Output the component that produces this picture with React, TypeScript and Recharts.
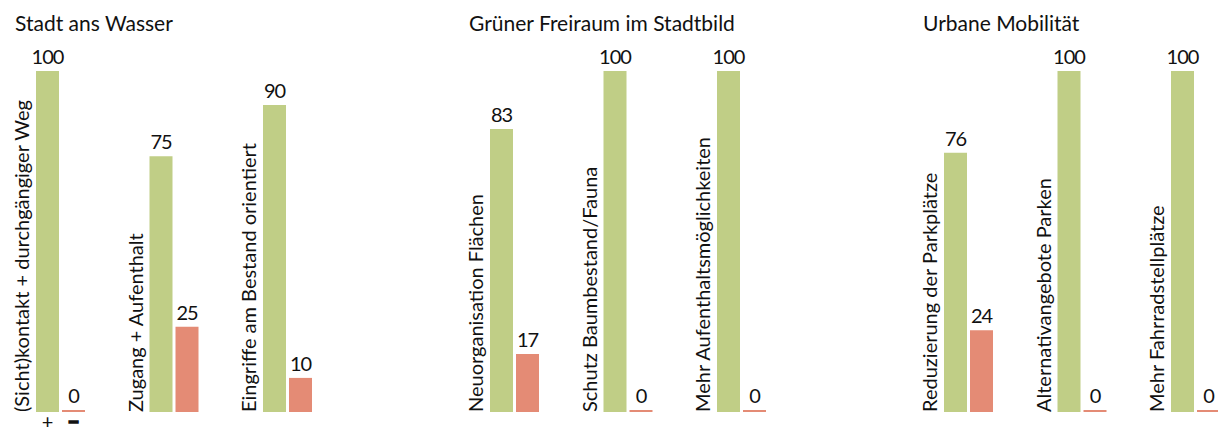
import { BarChart, Bar, XAxis, YAxis, LabelList } from "recharts";

// categories, blank entries separate the three topic groups
const categories = [
  "(Sicht)kontakt + durchgängiger Weg",
  "Zugang + Aufenthalt",
  "Eingriffe am Bestand orientiert",
  "",
  "Neuorganisation Flächen",
  "Schutz Baumbestand/Fauna",
  "Mehr Aufenthaltsmöglichkeiten",
  "",
  "Reduzierung der Parkplätze",
  "Alternativangebote Parken",
  "Mehr Fahrradstellplätze",
];
const positive = [100, 75, 90, null, 83, 100, 100, null, 76, 100, 100];
const negative = [0, 25, 10, null, 17, 0, 0, null, 24, 0, 0];
// group title, keyed by the first category of each group
const groupTitles: Record<string, string> = {
  "(Sicht)kontakt + durchgängiger Weg": "Stadt ans Wasser",
  "Neuorganisation Flächen": "Grüner Freiraum im Stadtbild",
  "Reduzierung der Parkplätze": "Urbane Mobilität",
};
const signs = ["+", "−"];

const GREEN = "#C0CE86";
const SALMON = "#E48B75";
const FONT = "Lato, 'Noto Sans', sans-serif";

const data = categories.map((name, i) => ({
  name,
  pos: positive[i],
  neg: negative[i],
}));

function ValueLabel(props: any) {
  const { x, y, width, value } = props;
  if (value == null) return null;
  return (
    <text
      x={Number(x) + Number(width) / 2}
      y={Number(y) - 7}
      textAnchor="middle"
      fontFamily={FONT}
      fontSize={20}
      letterSpacing={-1}
      fill="#111"
    >
      {value}
    </text>
  );
}

function CategoryLabel(props: any) {
  const { x, y, height, value } = props;
  if (!value) return null;
  const bx = Number(x) - 7;
  const by = Number(y) + Number(height);
  const title = groupTitles[value];
  return (
    <g>
      <text
        transform={`translate(${bx},${by}) rotate(-90)`}
        textAnchor="start"
        fontFamily={FONT}
        fontSize={20}
        fill="#111"
      >
        {value}
      </text>
      {title && (
        <text x={Number(x) - 21} y={31} fontFamily={FONT} fontSize={21} fill="#111">
          {title}
        </text>
      )}
    </g>
  );
}

function signLabel(sign: string, first: string) {
  return (props: any) => {
    const { x, y, width, height, index } = props;
    if (index !== 0 || data[0].name !== first) return null;
    const minus = sign !== "+";
    return (
      <text
        x={Number(x) + Number(width) / 2}
        y={Number(y) + Number(height) + 17}
        textAnchor="middle"
        fontFamily={FONT}
        fontSize={20}
        fontWeight={minus ? 700 : 400}
        stroke={minus ? "#111" : "none"}
        strokeWidth={minus ? 1.5 : 0}
        fill="#111"
      >
        {sign}
      </text>
    );
  };
}

export default function App() {
  return (
    <div
      style={{
        position: "absolute",
        left: 0,
        top: 0,
        width: 1218,
        height: 432,
        overflow: "hidden",
        background: "#fff",
      }}
    >
      <BarChart
        width={1260}
        height={432}
        data={data}
        margin={{ top: 71, right: 7.5, bottom: 20, left: 4 }}
        barSize={23}
        barGap={3}
      >
        <XAxis dataKey="name" hide />
        <YAxis hide domain={[0, 100]} />
        <Bar
          dataKey="pos"
          fill={GREEN}
          isAnimationActive={false}
          minPointSize={(v: any) => (v === 0 ? 2 : 0)}
        >
          <LabelList dataKey="pos" content={ValueLabel} />
          <LabelList dataKey="name" content={CategoryLabel} />
          <LabelList dataKey="pos" content={signLabel(signs[0], categories[0])} />
        </Bar>
        <Bar
          dataKey="neg"
          fill={SALMON}
          isAnimationActive={false}
          minPointSize={(v: any) => (v === 0 ? 2 : 0)}
        >
          <LabelList dataKey="neg" content={ValueLabel} />
          <LabelList dataKey="neg" content={signLabel(signs[1], categories[0])} />
        </Bar>
      </BarChart>
    </div>
  );
}
